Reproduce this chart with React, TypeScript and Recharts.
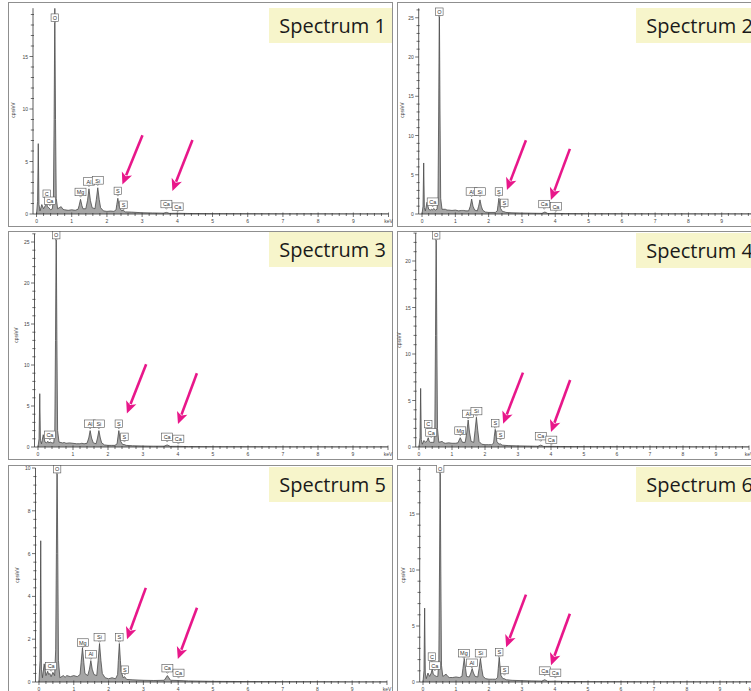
import React from 'react';
import { AreaChart, Area, XAxis, YAxis, ReferenceDot, ReferenceLine } from 'recharts';

// Energy grid (keV) shared by all spectra
const ENERGY_KEV = [0, 0.03, 0.05, 0.07, 0.1, 0.15, 0.2, 0.25, 0.28, 0.31, 0.35, 0.4, 0.45, 0.48, 0.5, 0.52, 0.54, 0.56, 0.6, 0.7, 0.75, 0.8, 0.9, 1.0, 1.1,
  1.18, 1.21, 1.25, 1.29, 1.32, 1.4, 1.45, 1.49, 1.53, 1.58, 1.66, 1.7, 1.74, 1.78, 1.82, 1.9, 2.0, 2.1, 2.2, 2.26, 2.28, 2.31, 2.34, 2.36, 2.42, 2.46, 2.52,
  2.7, 3.0, 3.3, 3.6, 3.69, 3.78, 4.0, 4.3, 5, 6, 7, 8, 9, 10];

// cps/eV per spectrum
const SPECTRUM_1 = [0, 1.2, 6.7, 0.9, 0.3, 0.9, 0.5, 0.8, 1.2, 0.7, 0.6, 0.4, 0.5, 1.5, 9, 19.6, 9, 1.5, 0.5, 0.7, 0.45, 0.4, 0.35, 0.4, 0.35,
  0.45, 0.8, 1.4, 0.8, 0.5, 0.5, 1.3, 2.4, 1.3, 0.6, 0.5, 1.4, 2.5, 1.4, 0.6, 0.3, 0.25, 0.28, 0.25, 0.4, 0.9, 1.5, 0.9, 0.6, 0.3, 0.35, 0.2,
  0.18, 0.12, 0.1, 0.08, 0.15, 0.06, 0.07, 0.05, 0.03, 0.02, 0.01, 0.01, 0, 0];
const SPECTRUM_2 = [0, 1.0, 6.5, 0.8, 0.4, 1.5, 0.6, 0.5, 0.6, 0.5, 0.7, 0.5, 0.6, 2, 13, 27, 13, 2, 0.6, 0.6, 0.5, 0.5, 0.45, 0.5, 0.4,
  0.45, 0.45, 0.45, 0.42, 0.4, 0.4, 1.0, 1.9, 1.0, 0.5, 0.4, 1.0, 1.8, 1.0, 0.5, 0.25, 0.2, 0.2, 0.2, 0.4, 1.1, 2.0, 1.1, 0.7, 0.3, 0.3, 0.2,
  0.15, 0.12, 0.1, 0.08, 0.25, 0.06, 0.08, 0.05, 0.03, 0.02, 0.01, 0.01, 0, 0];
const SPECTRUM_3 = [0, 1.0, 6.5, 0.8, 0.4, 1.5, 0.6, 0.5, 0.7, 0.5, 0.6, 0.5, 0.5, 2, 13, 27, 13, 2, 0.6, 0.5, 0.55, 0.45, 0.5, 0.45, 0.4,
  0.4, 0.42, 0.45, 0.42, 0.4, 0.45, 1.1, 2.0, 1.1, 0.5, 0.4, 1.1, 2.0, 1.1, 0.5, 0.25, 0.2, 0.2, 0.2, 0.4, 1.1, 2.0, 1.1, 0.7, 0.3, 0.3, 0.2,
  0.15, 0.12, 0.1, 0.1, 0.25, 0.08, 0.08, 0.05, 0.03, 0.02, 0.01, 0.01, 0, 0];
const SPECTRUM_4 = [0, 1.0, 6.3, 0.8, 0.3, 0.7, 0.5, 0.7, 1.0, 0.6, 0.5, 0.5, 0.5, 2, 12, 23.5, 12, 2, 0.5, 0.6, 0.45, 0.4, 0.45, 0.4, 0.4,
  0.45, 0.7, 1.0, 0.7, 0.5, 0.5, 1.6, 2.9, 1.6, 0.6, 0.5, 1.8, 3.2, 1.8, 0.6, 0.3, 0.25, 0.25, 0.25, 0.4, 1.1, 1.9, 1.1, 0.6, 0.3, 0.35, 0.2,
  0.15, 0.12, 0.1, 0.08, 0.2, 0.06, 0.07, 0.05, 0.03, 0.02, 0.01, 0.01, 0, 0];
const SPECTRUM_5 = [0, 1.0, 6.6, 0.6, 0.2, 0.85, 0.3, 0.5, 0.35, 0.4, 0.25, 0.45, 0.3, 1.5, 6, 10.5, 6, 1, 0.2, 0.3, 0.22, 0.3, 0.25, 0.3, 0.25,
  0.35, 0.9, 1.6, 0.9, 0.4, 0.3, 0.6, 1.0, 0.6, 0.35, 0.3, 1.0, 1.8, 1.0, 0.4, 0.2, 0.15, 0.2, 0.15, 0.35, 1.0, 1.8, 1.0, 0.5, 0.2, 0.25, 0.12,
  0.1, 0.08, 0.07, 0.08, 0.3, 0.08, 0.07, 0.05, 0.03, 0.02, 0.01, 0.01, 0, 0];
const SPECTRUM_6 = [0, 1.0, 6.6, 0.8, 0.3, 0.8, 0.5, 0.8, 1.2, 0.7, 0.6, 0.5, 0.5, 2, 10, 20, 10, 1.5, 0.5, 0.7, 0.5, 0.4, 0.4, 0.45, 0.4,
  0.5, 1.2, 2.1, 1.2, 0.5, 0.45, 0.8, 1.2, 0.8, 0.5, 0.45, 1.2, 2.1, 1.2, 0.5, 0.3, 0.25, 0.25, 0.25, 0.4, 1.2, 2.2, 1.2, 0.6, 0.3, 0.3, 0.2,
  0.15, 0.12, 0.1, 0.08, 0.2, 0.06, 0.07, 0.05, 0.03, 0.02, 0.01, 0.01, 0, 0];

// Peak labels: [element, energy keV, cps/eV at the label foot]
const LABELS_1: [string, number, number][] = [['C', 0.29, 1.43], ['Ca', 0.38, 0.76], ['O', 0.52, 18.2], ['Mg', 1.25, 1.6], ['Al', 1.49, 2.6], ['Si', 1.74, 2.7], ['S', 2.31, 1.7], ['S', 2.47, 0.38], ['Ca', 3.69, 0.45], ['Ca', 4.01, 0.2]];
const LABELS_2: [string, number, number][] = [['Ca', 0.32, 0.9], ['O', 0.52, 25.1], ['Al', 1.49, 2.2], ['Si', 1.74, 2.2], ['S', 2.31, 2.2], ['S', 2.47, 0.75], ['Ca', 3.67, 0.6], ['Ca', 4.02, 0.3]];
const LABELS_3: [string, number, number][] = [['Ca', 0.34, 0.85], ['O', 0.52, 25.2], ['Al', 1.49, 2.2], ['Si', 1.74, 2.2], ['S', 2.31, 2.2], ['S', 2.47, 0.6], ['Ca', 3.69, 0.6], ['Ca', 4.01, 0.35]];
const LABELS_4: [string, number, number][] = [['C', 0.28, 1.9], ['Ca', 0.37, 1.0], ['O', 0.52, 22.2], ['Mg', 1.25, 1.2], ['Al', 1.49, 3.0], ['Si', 1.74, 3.3], ['S', 2.31, 2.0], ['S', 2.47, 0.75], ['Ca', 3.69, 0.6], ['Ca', 4.01, 0.2]];
const LABELS_5: [string, number, number][] = [['Ca', 0.35, 0.5], ['O', 0.52, 9.7], ['Mg', 1.26, 1.6], ['Al', 1.49, 1.05], ['Si', 1.74, 1.85], ['S', 2.31, 1.85], ['S', 2.47, 0.33], ['Ca', 3.69, 0.4], ['Ca', 4.01, 0.18]];
const LABELS_6: [string, number, number][] = [['C', 0.27, 1.8], ['Ca', 0.36, 1.0], ['O', 0.52, 18.6], ['Mg', 1.24, 2.1], ['Al', 1.48, 1.25], ['Si', 1.75, 2.1], ['S', 2.31, 2.2], ['S', 2.47, 0.6], ['Ca', 3.69, 0.55], ['Ca', 4.01, 0.35]];

// Arrows: [tail keV, tail cps, tip keV, tip cps]
const ARROWS_1 = [[3.01, 7.5, 2.44, 2.8], [4.43, 7.05, 3.86, 2.19]];
const ARROWS_2 = [[3.12, 9.4, 2.55, 3.06], [4.44, 8.3, 3.87, 1.78]];
const ARROWS_3 = [[3.09, 10.1, 2.54, 4.1], [4.54, 9.0, 4.0, 2.8]];
const ARROWS_4 = [[3.15, 8.0, 2.55, 2.5], [4.58, 7.2, 4.0, 1.6]];
const ARROWS_5 = [[3.07, 4.4, 2.53, 2.0], [4.54, 3.47, 3.99, 1.07]];
const ARROWS_6 = [[3.12, 7.8, 2.52, 3.1], [4.45, 6.1, 3.88, 1.5]];

const X_TICK_LABELS = ['0', '1', '2', '3', '4', '5', '6', '7', '8', '9', 'keV'];
const TITLES = ['Spectrum 1', 'Spectrum 2', 'Spectrum 3', 'Spectrum 4', 'Spectrum 5', 'Spectrum 6'];
const Y_MAJOR = [5, 5, 5, 5, 2, 5];
const Y_MINOR = [1, 1, 1, 1, 0.4, 1];
const Y_MAX = [19.6, 26.2, 26.0, 23.0, 10.0, 19.2];

const SPECTRA = [SPECTRUM_1, SPECTRUM_2, SPECTRUM_3, SPECTRUM_4, SPECTRUM_5, SPECTRUM_6];
const LABELS = [LABELS_1, LABELS_2, LABELS_3, LABELS_4, LABELS_5, LABELS_6];
const ARROWS = [ARROWS_1, ARROWS_2, ARROWS_3, ARROWS_4, ARROWS_5, ARROWS_6];

// Layout (page pixels)
const LAYOUT = [
  { left: 8, top: 2, w: 385, h: 225, axisX: 33, kev: 35.2, y0: 214, ppu: 10.5, titleLeft: 269, titleTop: 8, ylx: 13, yly: 110 },
  { left: 397, top: 2, w: 364, h: 225, axisX: 418.7, kev: 33.3, y0: 214, ppu: 7.85, titleLeft: 636, titleTop: 8, ylx: 402, yly: 110 },
  { left: 8, top: 231, w: 385, h: 229, axisX: 34.5, kev: 35, y0: 447, ppu: 8.2, titleLeft: 269, titleTop: 232, ylx: 16, yly: 335 },
  { left: 397, top: 231, w: 364, h: 229, axisX: 415.7, kev: 33, y0: 447, ppu: 9.3, titleLeft: 636, titleTop: 233, ylx: 399, yly: 340 },
  { left: 8, top: 465, w: 385, h: 240, axisX: 35.5, kev: 34.8, y0: 682, ppu: 21.4, titleLeft: 269, titleTop: 467, ylx: 17, yly: 575 },
  { left: 397, top: 465, w: 364, h: 240, axisX: 419.7, kev: 33, y0: 682, ppu: 11.2, titleLeft: 636, titleTop: 467, ylx: 403, yly: 575 },
];

const X_TICKS = Array.from({ length: 51 }, (_, i) => Math.round(i * 2) / 10);
const TICK_FONT = 'Liberation Sans, Arial, sans-serif';

const XTick = (props: any) => {
  const { x, y, payload } = props;
  const v = payload.value;
  const major = Math.abs(v - Math.round(v)) < 1e-6;
  return (
    <g>
      <line x1={x} x2={x} y1={y - (major ? 1.5 : 1)} y2={y + (major ? 3 : 2)} stroke="#333" strokeWidth={0.7} />
      {major && (
        <text x={x} y={y + 9} fontSize={5} fontFamily={TICK_FONT} textAnchor="middle" fill="#444">
          {X_TICK_LABELS[Math.round(v)]}
        </text>
      )}
    </g>
  );
};

const makeYTick = (major: number) => (props: any) => {
  const { x, y, payload } = props;
  const v = payload.value;
  const isMajor = Math.abs(v / major - Math.round(v / major)) < 1e-6;
  return (
    <g>
      <line x1={x - (isMajor ? 3.5 : 2.2)} x2={x + (isMajor ? 0 : 1)} y1={y} y2={y} stroke="#333" strokeWidth={0.7} />
      {isMajor && (
        <text x={x - 5} y={y} fontSize={5} fontFamily={TICK_FONT} textAnchor="end" dominantBaseline="central" fill="#444">
          {String(Math.round(v))}
        </text>
      )}
    </g>
  );
};

const PeakLabel = ({ cx, cy, text }: { cx: number; cy: number; text: string }) => {
  const w = text.length > 1 ? 11 : 7.5;
  const h = 7.5;
  const p = 1.5;
  return (
    <g>
      <path d={`M${cx - 1.2},${cy - p} L${cx},${cy} L${cx + 1.2},${cy - p}`} fill="#fff" stroke="#555" strokeWidth={0.5} />
      <rect x={cx - w / 2} y={cy - p - h} width={w} height={h} fill="#fff" stroke="#555" strokeWidth={0.6} />
      <text x={cx} y={cy - p - h / 2 + 0.2} fontSize={5.5} fontFamily={TICK_FONT} textAnchor="middle" dominantBaseline="central" fill="#333">
        {text}
      </text>
    </g>
  );
};

const Arrow = (props: any) => {
  const { x1, y1, x2, y2 } = props;
  const dx = x2 - x1;
  const dy = y2 - y1;
  const len = Math.sqrt(dx * dx + dy * dy) || 1;
  const ux = dx / len;
  const uy = dy / len;
  const hl = 12;
  const hw = 5.5;
  const bx = x2 - ux * hl;
  const by = y2 - uy * hl;
  const px = -uy;
  const py = ux;
  return (
    <g>
      <line x1={x1} y1={y1} x2={bx + ux * 2} y2={by + uy * 2} stroke="#e8178a" strokeWidth={2.6} />
      <polygon
        points={`${x2},${y2} ${bx + px * hw},${by + py * hw} ${bx + ux * 3},${by + uy * 3} ${bx - px * hw},${by - py * hw}`}
        fill="#e8178a"
      />
    </g>
  );
};

const Panel = ({ idx }: { idx: number }) => {
  const L = LAYOUT[idx];
  const ymax = Y_MAX[idx];
  const data = ENERGY_KEV.map((e, i) => ({ e, v: SPECTRA[idx][i] }));
  const yAxisW = 20;
  const plotTop = L.y0 - ymax * L.ppu;
  const plotH = ymax * L.ppu;
  const plotW = 10.1 * L.kev;
  const mTop = plotTop - L.top;
  const mLeft = L.axisX - L.left - yAxisW;
  const xAxisH = 12;
  const mBottom = L.h - mTop - plotH - xAxisH;
  const mRight = L.w - mLeft - yAxisW - plotW;
  const minor = Y_MINOR[idx];
  const nMinor = Math.floor(ymax / minor + 1e-6);
  const yTicks = Array.from({ length: nMinor + 1 }, (_, i) => Math.round(i * minor * 100) / 100);

  return (
    <>
      <div
        style={{
          position: 'absolute',
          left: L.left,
          top: L.top,
          width: L.w,
          height: L.h,
          outline: '1px solid #8f8f8f',
          outlineOffset: -1,
          background: '#fff',
        }}
      >
        <AreaChart
          width={L.w}
          height={L.h}
          data={data}
          margin={{ top: mTop, left: mLeft, right: mRight, bottom: mBottom }}
        >
          <XAxis
            dataKey="e"
            type="number"
            domain={[-0.1, 10]}
            allowDataOverflow
            ticks={X_TICKS}
            interval={0}
            tick={XTick}
            tickLine={false}
            tickSize={0}
            tickMargin={0}
            height={xAxisH}
            axisLine={{ stroke: '#333', strokeWidth: 0.8 }}
          />
          <YAxis
            type="number"
            domain={[0, ymax]}
            allowDataOverflow
            ticks={yTicks}
            interval={0}
            tick={makeYTick(Y_MAJOR[idx])}
            tickLine={false}
            tickSize={0}
            tickMargin={0}
            width={yAxisW}
            axisLine={{ stroke: '#333', strokeWidth: 0.8 }}
          />
          <Area
            type="linear"
            dataKey="v"
            stroke="#4a4a4a"
            strokeWidth={0.8}
            fill="#a6a6a6"
            fillOpacity={1}
            baseValue={0}
            isAnimationActive={false}
            dot={false}
            activeDot={false}
          />
          {LABELS[idx].map(([t, e, y], i) => (
            <ReferenceDot
              key={'l' + i}
              x={e}
              y={y}
              r={1}
              ifOverflow="visible"
              shape={(p: any) => <PeakLabel cx={p.cx} cy={p.cy} text={t} />}
            />
          ))}
          {ARROWS[idx].map((a, i) => (
            <ReferenceLine
              key={'a' + i}
              segment={[{ x: a[0], y: a[1] }, { x: a[2], y: a[3] }]}
              ifOverflow="visible"
              shape={(p: any) => <Arrow {...p} />}
            />
          ))}
        </AreaChart>
      </div>
      <div
        style={{
          position: 'absolute',
          left: L.ylx - 20,
          top: L.yly - 4,
          width: 40,
          height: 8,
          lineHeight: '8px',
          fontSize: 5,
          fontFamily: TICK_FONT,
          color: '#444',
          textAlign: 'center',
          transform: 'rotate(-90deg)',
        }}
      >
        cps/eV
      </div>
      <div
        style={{
          position: 'absolute',
          left: L.titleLeft,
          top: L.titleTop,
          width: 123,
          height: 35,
          background: '#f7f5cb',
          fontFamily: '"Open Sans", sans-serif',
          fontSize: 20,
          lineHeight: '35px',
          color: '#1a1a1a',
          textAlign: 'right',
          paddingRight: 6,
          boxSizing: 'border-box',
          whiteSpace: 'nowrap',
        }}
      >
        {TITLES[idx]}
      </div>
    </>
  );
};

export default function App() {
  return (
    <div
      style={{
        position: 'absolute',
        left: 0,
        top: 0,
        width: 751,
        height: 691,
        overflow: 'hidden',
        background: '#fff',
      }}
    >
      {[0, 1, 2, 3, 4, 5].map((i) => (
        <Panel key={i} idx={i} />
      ))}
    </div>
  );
}
